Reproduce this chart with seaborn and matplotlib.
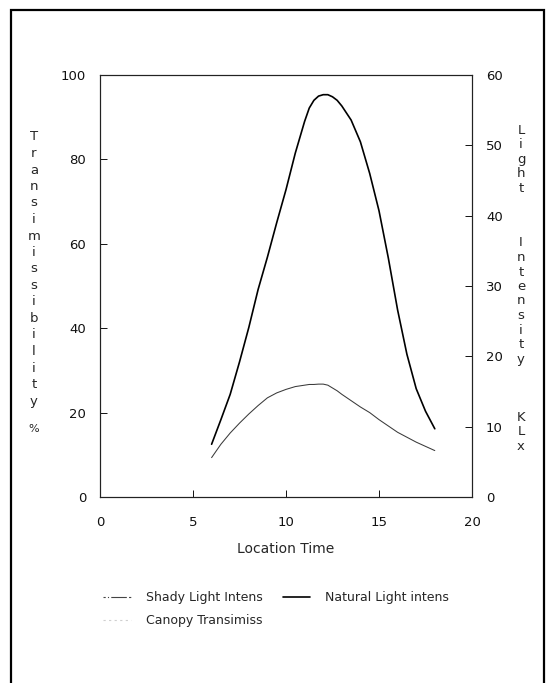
import numpy as np
import pandas as pd
import seaborn as sns
import matplotlib.pyplot as plt
from matplotlib.lines import Line2D
from matplotlib.patches import Rectangle

# values (half-hour steps, quarter-hours near the peak)
hours = [6, 6.5, 7, 7.5, 8, 8.5, 9, 9.5, 10, 10.5, 11, 11.25, 11.5, 11.75, 12,
         12.25, 12.5, 12.75, 13, 13.5, 14, 14.5, 15, 15.5, 16, 16.5, 17, 17.5, 18]
natural_klx = [7.5, 11.0, 14.6, 19.2, 24.1, 29.5, 34.1, 39.0, 43.7, 48.9, 53.4, 55.3, 56.4, 57.0, 57.2,
               57.2, 56.9, 56.4, 55.6, 53.6, 50.5, 46.0, 40.7, 34.0, 26.6, 20.3, 15.4, 12.2, 9.7]
shady_klx = [5.6, 7.5, 9.1, 10.5, 11.8, 13.0, 14.1, 14.8, 15.3, 15.7, 15.9, 16.0, 16.0, 16.05, 16.05,
             15.9, 15.5, 15.1, 14.6, 13.7, 12.8, 12.0, 11.0, 10.1, 9.2, 8.5, 7.8, 7.2, 6.6]
# canopy transmissibility only survives as faint specks in the scan
canopy_hours = [16.0, 16.5, 17.1, 17.7, 18.4]
canopy_pct = [83.5, 29.5, 33.0, 33.0, 40.0]

light = pd.DataFrame({"time": hours, "natural": natural_klx, "shady": shady_klx})
canopy = pd.DataFrame({"time": canopy_hours, "pct": canopy_pct})

sns.set_style("ticks")
plt.rcParams["font.family"] = ["DejaVu Sans"]

W, H = 554, 683
fig = plt.figure(figsize=(W / 100, H / 100), dpi=100)
ax = fig.add_axes([100 / W, 1 - 497 / H, 372 / W, 422 / H])
ax2 = ax.twinx()

sns.lineplot(data=canopy, x="time", y="pct", ax=ax, color="#cfcfcf",
             marker="_", markersize=4, linestyle="none")
sns.lineplot(data=light, x="time", y="natural", ax=ax2, color="black", linewidth=1.2)
sns.lineplot(data=light, x="time", y="shady", ax=ax2, color="#3a3a3a", linewidth=0.75)

ax.set_xlim(0, 20)
ax.set_ylim(0, 100)
ax2.set_ylim(0, 60)
ax.set_xticks([0, 5, 10, 15, 20])
ax.set_yticks([0, 20, 40, 60, 80, 100])
ax2.set_yticks([0, 10, 20, 30, 40, 50, 60])
ax.set_xlabel("Location Time", fontsize=10, labelpad=9)
ax.set_ylabel("")
ax2.set_ylabel("")

for a in (ax, ax2):
    for s in a.spines.values():
        s.set_visible(True)
        s.set_linewidth(0.8)
        s.set_color("#222222")
ax.tick_params(axis="both", direction="in", length=5, width=0.7, labelsize=9.5, colors="#111111")
ax.tick_params(axis="x", pad=14)
ax.tick_params(axis="y", pad=10)
ax2.tick_params(axis="y", direction="in", length=5, width=0.7, labelsize=9.5, pad=10, colors="#111111")

# stacked-letter axis titles
left_word = "Transimissibility"
for i, ch in enumerate(left_word):
    fig.text(34 / W, 1 - (137 + 16.5 * i) / H, ch, ha="center", va="center", fontsize=9.5)
fig.text(34 / W, 1 - 429 / H, "%", ha="center", va="center", fontsize=8)

right_parts = [("Light", 130), ("Intensity", 243), ("KLx", 417)]
for word, top in right_parts:
    for i, ch in enumerate(word):
        fig.text(521 / W, 1 - (top + 14.5 * i) / H, ch, ha="center", va="center", fontsize=9.5)

handles = [
    Line2D([], [], color="#444444", linewidth=0.8, linestyle=(0, (2, 2, 1, 2, 14, 2))),
    Line2D([], [], color="#cfcfcf", linewidth=0.8, linestyle=(0, (2, 3))),
    Line2D([], [], color="black", linewidth=1.2),
]
labels = ["Shady Light Intens", "Canopy Transimiss", "Natural Light intens"]
fig.legend(handles, labels, ncol=2, loc="upper left", bbox_to_anchor=(92 / W, 1 - 580 / H),
           frameon=False, fontsize=9, handlelength=2.2, columnspacing=1.6,
           handletextpad=1.2, labelspacing=0.8)

# page frame around the scanned figure
fig.patches.append(Rectangle((11 / W, -0.01), (544 - 11) / W, 1.01 - 10 / H,
                             transform=fig.transFigure, fill=False,
                             edgecolor="black", linewidth=1.6))

fig.savefig("out.png", dpi=100)
